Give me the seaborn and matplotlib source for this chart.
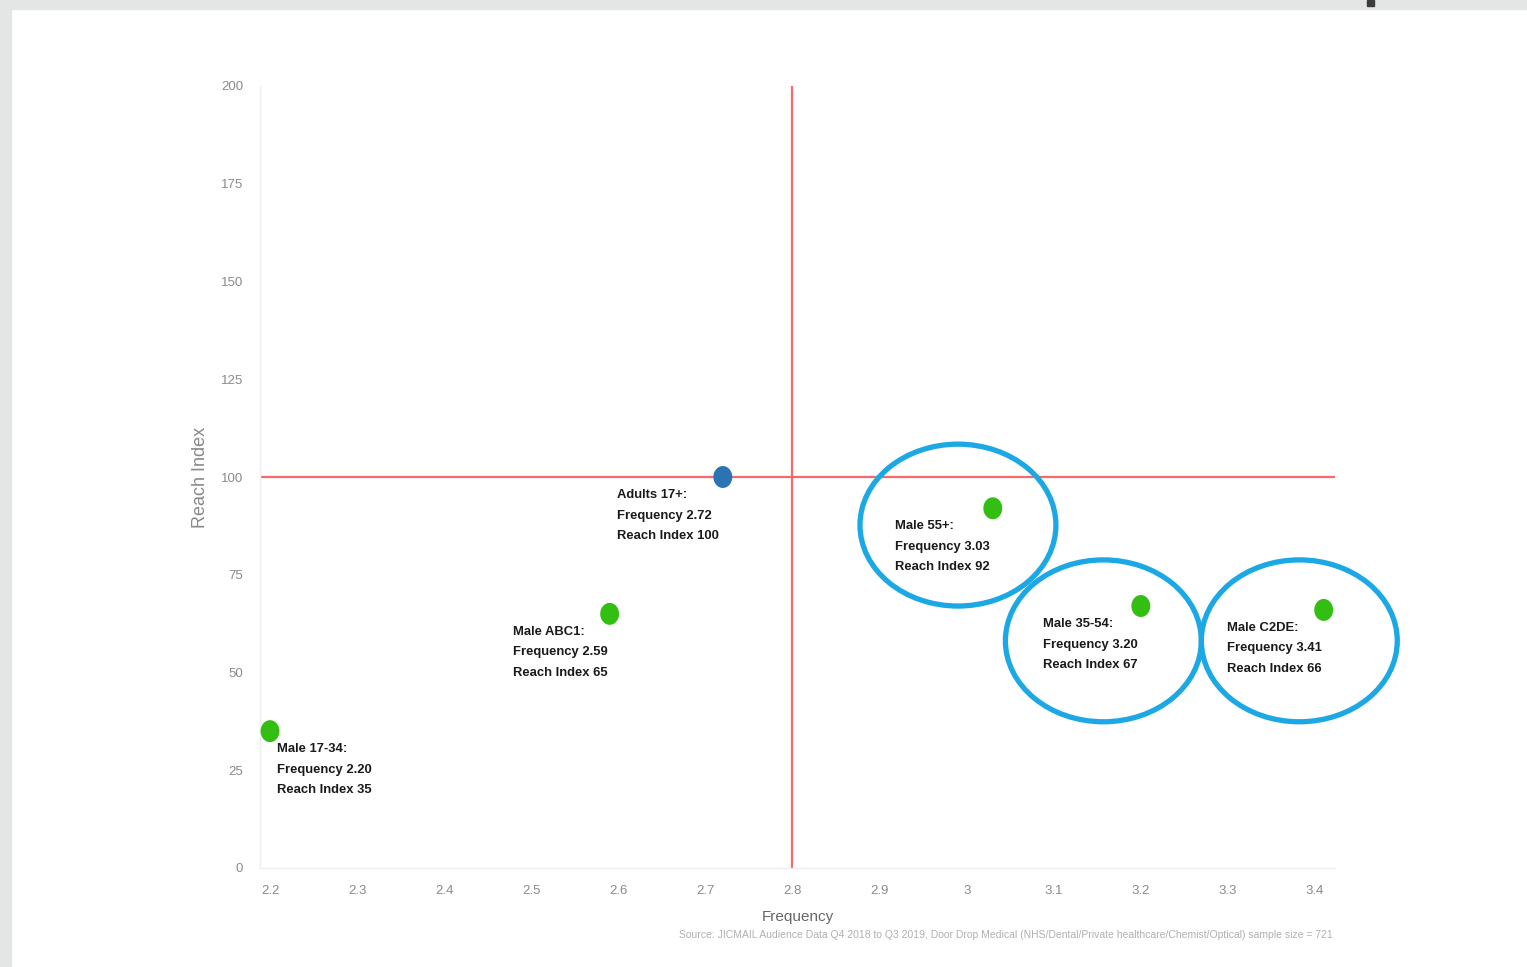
import numpy as np
import pandas as pd
import matplotlib
matplotlib.use('Agg')
import matplotlib.pyplot as plt
import seaborn as sns
from matplotlib.patches import Ellipse, Rectangle
from matplotlib.path import Path

# data
groups = ['Male 17-34', 'Male ABC1', 'Adults 17+', 'Male 55+', 'Male 35-54', 'Male C2DE']
frequency = [2.20, 2.59, 2.72, 3.03, 3.20, 3.41]
reach_index = [35, 65, 100, 92, 67, 66]
kind = ['segment', 'segment', 'base', 'segment', 'segment', 'segment']
highlighted = ['Male 55+', 'Male 35-54', 'Male C2DE']

x_ticks = [2.2, 2.3, 2.4, 2.5, 2.6, 2.7, 2.8, 2.9, 3.0, 3.1, 3.2, 3.3, 3.4]
x_tick_labels = ['2.2', '2.3', '2.4', '2.5', '2.6', '2.7', '2.8', '2.9', '3', '3.1', '3.2', '3.3', '3.4']
y_ticks = [0, 25, 50, 75, 100, 125, 150, 175, 200]

ref_frequency = 2.8
ref_reach = 100

source = ('Source: JICMAIL Audience Data Q4 2018 to Q3 2019, Door Drop Medical '
          '(NHS/Dental/Private healthcare/Chemist/Optical) sample size = 721')

df = pd.DataFrame({'group': groups, 'frequency': frequency,
                   'reach_index': reach_index, 'kind': kind})

sns.set_style('white')
plt.rcParams['font.family'] = ['Liberation Sans', 'DejaVu Sans']

W, H = 1527, 967
fig = plt.figure(figsize=(W / 100, H / 100), dpi=100)
ax = fig.add_axes([260 / W, 1 - 868 / H, 1075 / W, 782 / H])

# grey frame of the screenshot
fig.patches.append(Rectangle((0, 1 - 9 / H), 1, 9 / H, transform=fig.transFigure,
                             color='#e4e6e5', zorder=0))
fig.patches.append(Rectangle((0, 0), 11 / W, 1, transform=fig.transFigure,
                             color='#e4e6e5', zorder=0))
fig.patches.append(Rectangle((1367 / W, 1 - 6 / H), 7 / W, 6 / H, transform=fig.transFigure,
                             color='#3c3c3c', zorder=1))

ax.axhline(ref_reach, color='#f36b6b', lw=1.6, zorder=1)
ax.axvline(ref_frequency, color='#f36b6b', lw=1.6, zorder=1)

t = np.linspace(0, 2 * np.pi, 60)
dot = Path(np.column_stack([0.86 * np.cos(t), np.sin(t)]), closed=True)

sns.scatterplot(data=df, x='frequency', y='reach_index', hue='kind',
                palette={'segment': '#33bf12', 'base': '#2a74b4'},
                s=250, marker=dot, edgecolor='none', legend=False,
                ax=ax, zorder=3, clip_on=False)

# labels under each point
label_dx = [7, -97, -106, -98, -98, -97]
for g, x, y, dx in zip(groups, frequency, reach_index, label_dx):
    txt = '%s:\nFrequency %.2f\nReach Index %d' % (g, x, y)
    ax.annotate(txt, xy=(x, y), xytext=(dx, -12), textcoords='offset pixels',
                ha='left', va='top', fontsize=9.4, fontweight='bold',
                color='#1a1a1a', linespacing=1.95, zorder=4)

# blue circles around the highlighted groups
ell_dx = [-0.040, -0.043, -0.028]
ell_dy = [-4.3, -8.9, -7.9]
for g, dx, dy in zip(highlighted, ell_dx, ell_dy):
    i = groups.index(g)
    ax.add_patch(Ellipse((frequency[i] + dx, reach_index[i] + dy), width=0.225, height=41.4,
                         fill=False, ec='#1ba8e5', lw=3.8, clip_on=False, zorder=5))

ax.set_xlim(2.1885, 3.423)
ax.set_ylim(0, 200)
ax.set_xticks(x_ticks)
ax.set_xticklabels(x_tick_labels)
ax.set_yticks(y_ticks)
ax.tick_params(length=0, pad=12, labelsize=9.5, labelcolor='#8a8a8a')

for s in ['top', 'right']:
    ax.spines[s].set_visible(False)
for s in ['left', 'bottom']:
    ax.spines[s].set_color('#eeeeee')
    ax.spines[s].set_linewidth(1)

ax.set_xlabel('Frequency', fontsize=11, color='#666666')
ax.xaxis.set_label_coords(0.5, -(917 - 868) / 782)
ax.xaxis.label.set_va('center')
ax.set_ylabel('Reach Index', fontsize=13, color='#888888')
ax.yaxis.set_label_coords(-0.055, 0.5)
ax.yaxis.label.set_va('center')

fig.text(1333 / W, 1 - 935 / H, source, ha='right', va='center',
         fontsize=7.5, color='#b0b0b0')

fig.savefig('out.png', dpi=100)
